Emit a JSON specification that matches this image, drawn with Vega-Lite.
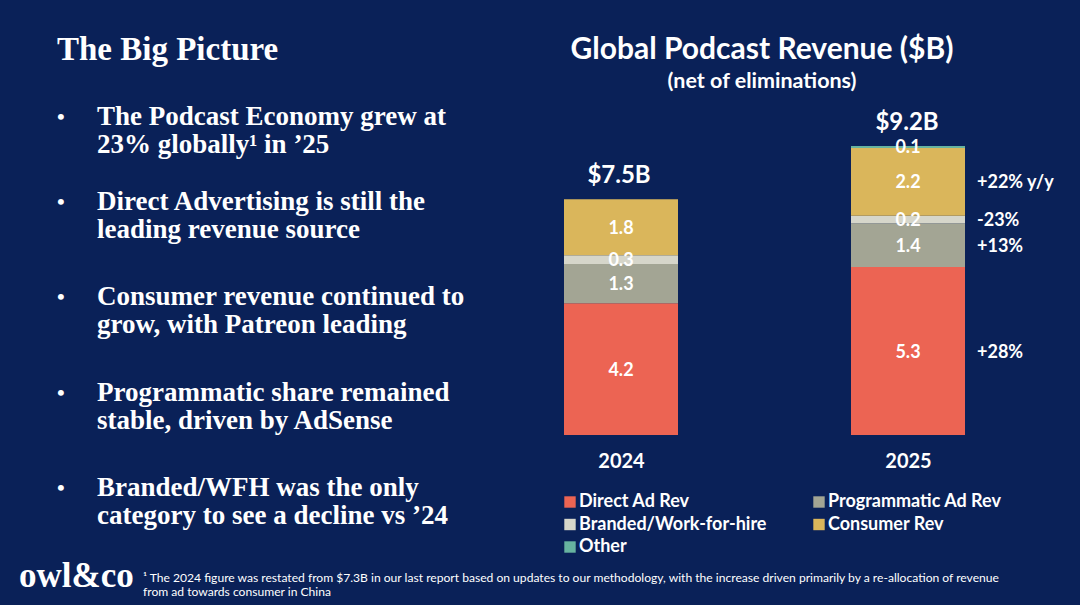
{
  "$schema": "https://vega.github.io/schema/vega-lite/v6.json",
  "width": 1080,
  "height": 605,
  "padding": 0,
  "autosize": {"type": "none"},
  "background": "#0a2158",
  "config": {"view": {"stroke": null}, "font": "Lato"},
  "title": {
    "text": "Global Podcast Revenue ($B)",
    "subtitle": "(net of eliminations)",
    "anchor": "middle",
    "frame": "group",
    "orient": "top",
    "dx": 222,
    "dy": 96,
    "color": "white",
    "font": "Lato",
    "fontSize": 30,
    "fontWeight": "bold",
    "subtitleColor": "white",
    "subtitleFont": "Lato",
    "subtitleFontSize": 21.5,
    "subtitleFontWeight": "bold",
    "subtitlePadding": 6
  },
  "datasets": {
    "segments": [
      {"year": "2024", "category": "Direct Ad Rev", "rank": 1, "value": 4.2},
      {"year": "2024", "category": "Programmatic Ad Rev", "rank": 2, "value": 1.25},
      {"year": "2024", "category": "Branded/Work-for-hire", "rank": 3, "value": 0.28},
      {"year": "2024", "category": "Consumer Rev", "rank": 4, "value": 1.78},
      {"year": "2025", "category": "Direct Ad Rev", "rank": 1, "value": 5.35, "change": "+28%"},
      {"year": "2025", "category": "Programmatic Ad Rev", "rank": 2, "value": 1.4, "change": "+13%"},
      {"year": "2025", "category": "Branded/Work-for-hire", "rank": 3, "value": 0.24, "change": "-23%"},
      {"year": "2025", "category": "Consumer Rev", "rank": 4, "value": 2.16, "change": "+22% y/y"},
      {"year": "2025", "category": "Other", "rank": 5, "value": 0.06}
    ],
    "totals": [
      {"year": "2024", "total": 7.51, "label": "$7.5B"},
      {"year": "2025", "total": 9.21, "label": "$9.2B"}
    ],
    "bullets": [
      {"point": "a", "copy": "The Podcast Economy grew at\n23% globally¹ in ’25"},
      {"point": "b", "copy": "Direct Advertising is still the\nleading revenue source"},
      {"point": "c", "copy": "Consumer revenue continued to\ngrow, with Patreon leading"},
      {"point": "d", "copy": "Programmatic share remained\nstable, driven by AdSense"},
      {"point": "e", "copy": "Branded/WFH was the only\ncategory to see a decline vs ’24"}
    ],
    "slide": [
      {"block": "heading", "copy": "The Big Picture"},
      {"block": "logo", "copy": "owl&co"},
      {"block": "note", "copy": "¹ The 2024 figure was restated from $7.3B in our last report based on updates to our methodology, with the increase driven primarily by a re-allocation of revenue\nfrom ad towards consumer in China"}
    ]
  },
  "layer": [
    {
      "data": {"name": "segments"},
      "encoding": {
        "x": {
          "field": "year",
          "type": "nominal",
          "scale": {"type": "point", "domain": ["2024", "2025"], "range": [621, 908], "padding": 0},
          "axis": {"title": null, "orient": "bottom", "offset": -159, "domain": false, "ticks": false, "labelAngle": 0, "labelColor": "white", "labelFont": "Lato", "labelFontSize": 20, "labelFontWeight": "bold", "labelPadding": 5, "grid": false}
        },
        "y": {
          "field": "value",
          "type": "quantitative",
          "stack": "zero",
          "scale": {"domain": [0, 9.21], "range": [435, 146], "nice": false, "zero": true},
          "axis": null
        },
        "order": {"field": "rank", "type": "ordinal"}
      },
      "layer": [
        {
          "mark": {"type": "bar", "width": 114},
          "encoding": {
            "color": {
              "field": "category",
              "type": "nominal",
              "sort": null,
              "scale": {
                "domain": ["Direct Ad Rev", "Branded/Work-for-hire", "Other", "Programmatic Ad Rev", "Consumer Rev"],
                "range": ["#ec6453", "#d6d6ca", "#67b3a0", "#a3a594", "#dab65b"]
              },
              "legend": {
                "orient": "none",
                "legendX": 561,
                "legendY": 493,
                "columns": 2,
                "title": null,
                "symbolType": "square",
                "symbolSize": 130,
                "symbolStrokeWidth": 0,
                "labelColor": "white",
                "labelFont": "Lato",
                "labelFontSize": 18,
                "labelFontWeight": "bold",
                "labelLimit": 300,
                "labelOffset": 0,
                "columnPadding": 43,
                "rowPadding": 4.5
              }
            }
          }
        },
        {
          "mark": {"type": "text", "dy": 1.5, "color": "white", "font": "Lato", "fontSize": 18, "fontWeight": "bold"},
          "encoding": {
            "y": {"field": "value", "type": "quantitative", "stack": "zero", "bandPosition": 0.5},
            "text": {"field": "value", "type": "quantitative", "format": ".1f"}
          }
        },
        {
          "transform": [{"filter": "isValid(datum.change)"}],
          "mark": {"type": "text", "align": "left", "dx": 69, "dy": 1.5, "color": "white", "font": "Lato", "fontSize": 18, "fontWeight": "bold"},
          "encoding": {
            "y": {"field": "value", "type": "quantitative", "stack": "zero", "bandPosition": 0.5},
            "text": {"field": "change", "type": "nominal"}
          }
        }
      ]
    },
    {
      "data": {"name": "totals"},
      "mark": {"type": "text", "baseline": "bottom", "dy": -11, "color": "white", "font": "Lato", "fontSize": 24, "fontWeight": "bold"},
      "encoding": {
        "x": {"field": "year", "type": "nominal", "scale": {"type": "point", "domain": ["2024", "2025"], "range": [619, 907], "padding": 0}, "axis": null},
        "y": {"field": "total", "type": "quantitative", "scale": {"domain": [0, 9.21], "range": [435, 146], "nice": false}, "axis": null},
        "text": {"field": "label", "type": "nominal"}
      }
    },
    {
      "data": {"name": "bullets"},
      "transform": [{"filter": "datum.point === 'a'"}],
      "encoding": {
        "y": {"field": "point", "type": "nominal", "scale": {"type": "point", "domain": ["a"], "range": [117, 117], "padding": 0}, "axis": null}
      },
      "layer": [
        {
          "mark": {"type": "text", "align": "left", "text": "•", "color": "white", "font": "Liberation Serif", "fontSize": 22, "fontWeight": "bold"},
          "encoding": {"x": {"datum": "dot", "type": "nominal", "scale": {"type": "point", "domain": ["dot", "copy"], "range": [57, 97], "padding": 0}, "axis": null}}
        },
        {
          "mark": {"type": "text", "align": "left", "lineBreak": "\n", "lineHeight": 28, "color": "white", "font": "Liberation Serif", "fontSize": 27, "fontWeight": "bold"},
          "encoding": {
            "x": {"datum": "copy", "type": "nominal", "scale": {"type": "point", "domain": ["dot", "copy"], "range": [57, 97], "padding": 0}, "axis": null},
            "text": {"field": "copy", "type": "nominal"}
          }
        }
      ]
    },
    {
      "data": {"name": "bullets"},
      "transform": [{"filter": "datum.point !== 'a'"}],
      "encoding": {
        "y": {"field": "point", "type": "nominal", "scale": {"type": "point", "domain": ["b", "c", "d", "e"], "range": [202, 488], "padding": 0}, "axis": null}
      },
      "layer": [
        {
          "mark": {"type": "text", "align": "left", "text": "•", "color": "white", "font": "Liberation Serif", "fontSize": 22, "fontWeight": "bold"},
          "encoding": {"x": {"datum": "dot", "type": "nominal", "scale": {"type": "point", "domain": ["dot", "copy"], "range": [57, 97], "padding": 0}, "axis": null}}
        },
        {
          "mark": {"type": "text", "align": "left", "lineBreak": "\n", "lineHeight": 28, "color": "white", "font": "Liberation Serif", "fontSize": 27, "fontWeight": "bold"},
          "encoding": {
            "x": {"datum": "copy", "type": "nominal", "scale": {"type": "point", "domain": ["dot", "copy"], "range": [57, 97], "padding": 0}, "axis": null},
            "text": {"field": "copy", "type": "nominal"}
          }
        }
      ]
    },
    {
      "data": {"name": "slide"},
      "transform": [{"filter": "datum.block === 'heading'"}],
      "mark": {"type": "text", "align": "left", "color": "white", "font": "Liberation Serif", "fontSize": 33, "fontWeight": "bold"},
      "encoding": {
        "x": {"field": "block", "type": "nominal", "scale": {"type": "point", "domain": ["heading"], "range": [57, 57]}, "axis": null},
        "y": {"field": "block", "type": "nominal", "scale": {"type": "point", "domain": ["heading"], "range": [50, 50]}, "axis": null},
        "text": {"field": "copy", "type": "nominal"}
      }
    },
    {
      "data": {"name": "slide"},
      "transform": [{"filter": "datum.block === 'logo'"}],
      "mark": {"type": "text", "align": "left", "color": "white", "font": "Liberation Serif", "fontSize": 35, "fontWeight": "bold"},
      "encoding": {
        "x": {"field": "block", "type": "nominal", "scale": {"type": "point", "domain": ["logo"], "range": [19, 19]}, "axis": null},
        "y": {"field": "block", "type": "nominal", "scale": {"type": "point", "domain": ["logo"], "range": [576, 576]}, "axis": null},
        "text": {"field": "copy", "type": "nominal"}
      }
    },
    {
      "data": {"name": "slide"},
      "transform": [{"filter": "datum.block === 'note'"}],
      "mark": {"type": "text", "align": "left", "lineBreak": "\n", "lineHeight": 14, "color": "white", "font": "Lato", "fontSize": 12.1},
      "encoding": {
        "x": {"field": "block", "type": "nominal", "scale": {"type": "point", "domain": ["note"], "range": [143, 143]}, "axis": null},
        "y": {"field": "block", "type": "nominal", "scale": {"type": "point", "domain": ["note"], "range": [578, 578]}, "axis": null},
        "text": {"field": "copy", "type": "nominal"}
      }
    }
  ],
  "resolve": {"scale": {"x": "independent", "y": "independent", "color": "independent"}, "axis": {"x": "independent", "y": "independent"}}
}
